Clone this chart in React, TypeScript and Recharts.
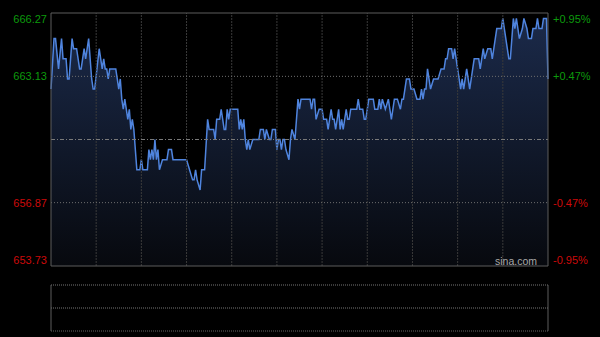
import { ComposedChart, Area, Line, XAxis, YAxis, ReferenceLine } from 'recharts';

// minutes since open (HK session, 330 min) and last price
const minutes = [
  0, 2, 3, 5, 7, 8, 10, 11, 12, 14, 15, 17, 19, 20, 21, 22, 23, 25, 27, 28, 29, 32, 33, 34, 35, 36, 37, 38, 39, 42,
  43, 44, 45, 46, 47, 48, 49, 51, 52, 53, 54, 55, 57, 59, 60, 61, 64, 65, 66, 67, 68, 69, 70, 71, 72, 74, 77, 78, 80, 81,
  90, 92, 94, 95, 96, 97, 99, 100, 102, 104, 105, 108, 109, 110, 112, 113, 114, 115, 116, 117, 118, 119, 124, 125, 126, 127, 128, 129, 130, 131,
  132, 134, 138, 139, 141, 142, 143, 145, 146, 147, 149, 150, 151, 152, 153, 154, 155, 156, 158, 159, 160, 162, 164, 165, 166, 172, 173, 174, 175, 176,
  178, 180, 181, 183, 184, 186, 187, 188, 189, 190, 191, 192, 193, 194, 196, 197, 198, 199, 203, 204, 205, 207, 208, 209, 211, 214, 215, 217, 218, 219,
  220, 222, 224, 225, 226, 228, 230, 232, 233, 234, 236, 238, 239, 241, 243, 245, 246, 247, 248, 249, 250, 251, 252, 254, 257, 259, 261, 262, 263, 264,
  266, 267, 268, 270, 271, 272, 273, 274, 276, 277, 278, 280, 281, 284, 285, 287, 288, 290, 292, 293, 295, 296, 299, 300, 301, 303, 304, 305, 306, 307,
  308, 309, 311, 313, 314, 316, 317, 319, 320, 322, 323, 324, 326, 327, 329, 330,
];
const prices = [
  662.5, 665, 665, 663.5, 665, 664, 664, 663, 663, 665, 664.5, 664.5, 663.5, 663.5, 664, 664.5, 664, 665, 663, 662.5, 662.5, 664.5, 664, 663.5, 664, 663.5, 663.5, 663, 663.5, 663.5,
  663.5, 663, 662.5, 663, 662, 661.5, 662, 661, 661.5, 660.5, 661, 660.5, 658.5, 658.5, 659, 658.5, 658.5, 659.5, 659, 659.5, 659, 660, 659, 659.5, 658.5, 659, 659, 659.5, 659.5, 659,
  659, 658.5, 658, 658, 658.5, 658, 657.5, 658.5, 658.5, 661, 660.5, 660.5, 660, 661, 661, 661.5, 661, 660.5, 660.5, 661.5, 661, 661.5, 661.5, 660.5, 661, 660.5, 661, 660, 659.5, 660,
  659.5, 660, 660, 660.5, 660.5, 660, 660.5, 660, 660, 660.5, 660.5, 659.5, 660, 660, 659.5, 660, 660, 659.5, 659, 660, 660.5, 660, 662, 661.5, 662, 662, 661.5, 662, 662, 661,
  661.5, 661.5, 661, 661, 660.5, 661.5, 661, 661, 660.5, 661, 661.5, 660.5, 661, 660.5, 661.5, 661, 661, 661.5, 661.5, 662, 661.5, 661.5, 661, 661, 662, 662, 661.5, 661.5, 662, 661.5,
  662, 661.5, 662, 661.5, 661, 662, 662, 661.5, 662, 662, 663, 663, 662.5, 662.5, 662, 662, 662.5, 662, 662.5, 662.5, 663.5, 663, 662.5, 663, 663, 663.5, 663.5, 664, 664, 664.5,
  664.5, 664, 664.5, 663.5, 663, 662.5, 663, 662.5, 663.5, 663, 662.5, 663.5, 664, 664, 663.5, 664.5, 664, 664.5, 664.5, 664, 665, 665.5, 665.5, 666, 665.5, 664.5, 664, 664, 665, 666,
  665.5, 666, 665, 665.5, 666, 665.5, 665, 665, 665.5, 665.5, 666, 665.5, 665.5, 666, 666, 663,
];

const prevClose = 660;
const priceTicks = [653.73, 656.87, 663.13, 666.27];
const gridMinutes = [30, 60, 90, 120, 150, 180, 210, 240, 270, 300];

const data = minutes.map((m, i) => ({ m, price: prices[i] }));

const GREEN = '#0c9a0c';
const RED = '#cc0a0a';
const FONT = '"Liberation Sans", Arial, sans-serif';

const lo = priceTicks[0];
const hi = priceTicks[priceTicks.length - 1];

function edgeShift(v: number) {
  if (v === hi) return 6;
  if (v === lo) return -6;
  return 0;
}

// draws the price label on the left and the change label on the right
const PriceTick = (props: any) => {
  const v = props.payload.value as number;
  const pct = ((v - prevClose) / prevClose) * 100;
  const y = props.y + edgeShift(v);
  const color = v >= prevClose ? GREEN : RED;
  return (
    <g>
      <text x={47} y={y} textAnchor="end" dominantBaseline="central" fill={color} fontSize={11} fontFamily={FONT}>
        {v.toFixed(2)}
      </text>
      <text x={553} y={y} textAnchor="start" dominantBaseline="central" fill={color} fontSize={11} fontFamily={FONT}>
        {(pct > 0 ? '+' : '') + pct.toFixed(2) + '%'}
      </text>
    </g>
  );
};

export default function App() {
  return (
    <div style={{ position: 'absolute', left: 0, top: 0, width: 600, height: 337, background: '#000', overflow: 'hidden' }}>
      <ComposedChart width={600} height={337} data={data} margin={{ top: 13, right: 52, bottom: 71, left: 0 }}>
        <defs>
          <linearGradient id="priceFill" x1="0" y1="0" x2="0" y2="1">
            <stop offset="0%" stopColor="#1b2a4a" />
            <stop offset="100%" stopColor="#07090e" />
          </linearGradient>
        </defs>
        <XAxis dataKey="m" type="number" domain={[0, 330]} hide />
        <YAxis
          yAxisId="p"
          orientation="left"
          width={51}
          domain={[lo, hi]}
          ticks={priceTicks}
          axisLine={false}
          tickLine={false}
          tick={<PriceTick />}
          interval={0}
        />
        <Area
          yAxisId="p"
          type="linear"
          dataKey="price"
          stroke="#4f84de"
          strokeWidth={1.5}
          fill="url(#priceFill)"
          fillOpacity={1}
          dot={false}
          activeDot={false}
          isAnimationActive={false}
        />
        {gridMinutes.map((g) => (
          <ReferenceLine key={g} yAxisId="p" x={g} stroke="#3a3a3a" strokeDasharray="2 1" />
        ))}
        <ReferenceLine yAxisId="p" y={663.13} stroke="#6e6e6e" strokeDasharray="1 2" />
        <ReferenceLine yAxisId="p" y={656.87} stroke="#6e6e6e" strokeDasharray="1 2" />
        <ReferenceLine yAxisId="p" y={prevClose} stroke="#7a7a7a" strokeDasharray="4 2 1 2" />
        <ReferenceLine yAxisId="p" y={hi} stroke="#5c5c5c" />
        <ReferenceLine yAxisId="p" y={lo} stroke="#5c5c5c" />
        <ReferenceLine yAxisId="p" x={0} stroke="#5c5c5c" />
        <ReferenceLine yAxisId="p" x={330} stroke="#5c5c5c" />
      </ComposedChart>
      <div
        style={{
          position: 'absolute',
          left: 440,
          top: 255,
          width: 97,
          textAlign: 'right',
          color: '#a8a8a8',
          fontSize: 10.5,
          lineHeight: '12px',
          fontFamily: FONT,
        }}
      >
        sina.com
      </div>
      <div style={{ position: 'absolute', left: 0, top: 275 }}>
        <ComposedChart width={600} height={62} data={data} margin={{ top: 10, right: 52, bottom: 6, left: 51 }}>
          <XAxis dataKey="m" type="number" domain={[0, 330]} hide />
          <YAxis yAxisId="h" domain={[lo, hi]} hide />
          {/* invisible carrier so the panel frame gets scales */}
          <Line yAxisId="h" dataKey="price" stroke="none" dot={false} activeDot={false} isAnimationActive={false} />
          <ReferenceLine yAxisId="h" y={hi} stroke="#777" strokeDasharray="1 1" />
          <ReferenceLine yAxisId="h" y={(hi + lo) / 2} stroke="#777" strokeDasharray="1 1" />
          <ReferenceLine yAxisId="h" y={lo} stroke="#666" strokeDasharray="1 1" />
          <ReferenceLine yAxisId="h" x={0} stroke="#5c5c5c" />
          <ReferenceLine yAxisId="h" x={330} stroke="#5c5c5c" />
        </ComposedChart>
      </div>
    </div>
  );
}
